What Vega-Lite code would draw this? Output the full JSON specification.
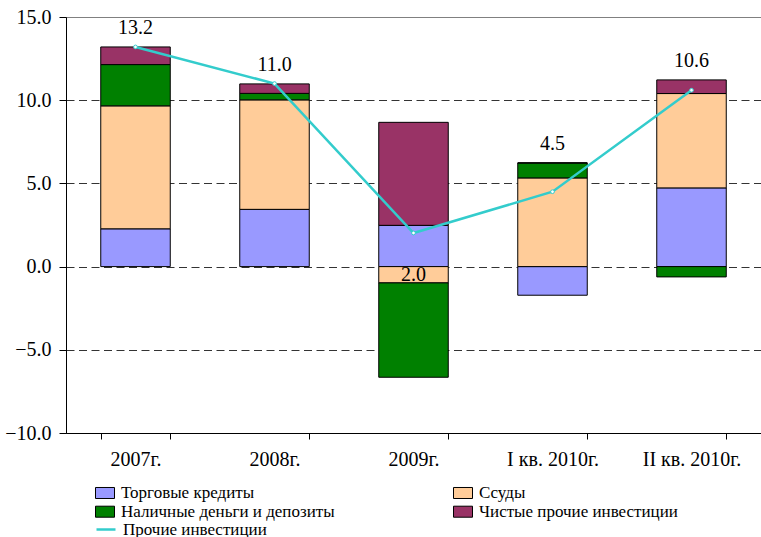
{
  "$schema": "https://vega.github.io/schema/vega-lite/v6.json",
  "autosize": "none",
  "width": 695,
  "height": 416,
  "padding": {"left": 66, "top": 17, "right": 0, "bottom": 104},
  "background": "white",
  "config": {
    "view": {"stroke": "#808080", "strokeWidth": 1},
    "font": "Liberation Serif"
  },
  "datasets": {
    "series": [
      {"series": "Торговые кредиты", "rank": 1},
      {"series": "Ссуды", "rank": 2},
      {"series": "Наличные деньги и депозиты", "rank": 3},
      {"series": "Чистые прочие инвестиции", "rank": 4}
    ],
    "bars": [
      {"cat": "2007г.", "series": "Торговые кредиты", "value": 2.27},
      {"cat": "2007г.", "series": "Ссуды", "value": 7.39},
      {"cat": "2007г.", "series": "Наличные деньги и депозиты", "value": 2.48},
      {"cat": "2007г.", "series": "Чистые прочие инвестиции", "value": 1.06},
      {"cat": "2008г.", "series": "Торговые кредиты", "value": 3.44},
      {"cat": "2008г.", "series": "Ссуды", "value": 6.58},
      {"cat": "2008г.", "series": "Наличные деньги и депозиты", "value": 0.39},
      {"cat": "2008г.", "series": "Чистые прочие инвестиции", "value": 0.57},
      {"cat": "2009г.", "series": "Торговые кредиты", "value": 2.48},
      {"cat": "2009г.", "series": "Ссуды", "value": -0.98},
      {"cat": "2009г.", "series": "Наличные деньги и депозиты", "value": -5.67},
      {"cat": "2009г.", "series": "Чистые прочие инвестиции", "value": 6.19},
      {"cat": "I кв. 2010г.", "series": "Торговые кредиты", "value": -1.72},
      {"cat": "I кв. 2010г.", "series": "Ссуды", "value": 5.33},
      {"cat": "I кв. 2010г.", "series": "Наличные деньги и депозиты", "value": 0.9},
      {"cat": "I кв. 2010г.", "series": "Чистые прочие инвестиции", "value": 0},
      {"cat": "II кв. 2010г.", "series": "Торговые кредиты", "value": 4.73},
      {"cat": "II кв. 2010г.", "series": "Ссуды", "value": 5.67},
      {"cat": "II кв. 2010г.", "series": "Наличные деньги и депозиты", "value": -0.62},
      {"cat": "II кв. 2010г.", "series": "Чистые прочие инвестиции", "value": 0.82}
    ],
    "totals": [
      {"cat": "2007г.", "total": 13.2},
      {"cat": "2008г.", "total": 11.0},
      {"cat": "2009г.", "total": 2.02},
      {"cat": "I кв. 2010г.", "total": 4.5},
      {"cat": "II кв. 2010г.", "total": 10.6}
    ]
  },
  "encoding": {
    "x": {
      "field": "cat",
      "type": "nominal",
      "sort": ["2007г.", "2008г.", "2009г.", "I кв. 2010г.", "II кв. 2010г."],
      "scale": {"paddingInner": 0.5, "paddingOuter": 0.25},
      "axis": {
        "title": null,
        "labelAngle": 0,
        "labelFont": "Liberation Serif",
        "labelFontSize": 20,
        "labelColor": "black",
        "domainColor": "black",
        "tickColor": "black",
        "tickBand": "extent",
        "tickSize": 6,
        "labelPadding": 10,
        "grid": false
      }
    }
  },
  "layer": [
    {
      "data": {"name": "bars"},
      "transform": [
        {"lookup": "series", "from": {"data": {"name": "series"}, "key": "series", "fields": ["rank"]}}
      ],
      "mark": {"type": "bar", "stroke": "black", "strokeWidth": 1},
      "encoding": {
        "y": {
          "field": "value",
          "type": "quantitative",
          "stack": "zero",
          "scale": {"domain": [-10, 15], "nice": false, "zero": false},
          "axis": {
            "title": null,
            "values": [-10, -5, 0, 5, 10, 15],
            "format": ".1f",
            "labelFont": "Liberation Serif",
            "labelFontSize": 20,
            "labelColor": "black",
            "domainColor": "black",
            "tickColor": "black",
            "tickSize": 7,
            "labelPadding": 8,
            "grid": true,
            "gridColor": {"condition": {"test": "datum.value === 15", "value": "#808080"}, "value": "#333333"},
            "gridDash": {"condition": {"test": "datum.value === 15", "value": []}, "value": [8, 4.5]},
            "gridWidth": 1
          }
        },
        "order": {"field": "rank", "type": "quantitative", "sort": "ascending"},
        "fill": {
          "field": "series",
          "type": "nominal",
          "scale": {
            "domain": ["Торговые кредиты", "Наличные деньги и депозиты", "Ссуды", "Чистые прочие инвестиции"],
            "range": ["#9999ff", "#008000", "#ffcc99", "#993366"]
          },
          "legend": {
            "title": null,
            "orient": "none",
            "legendX": 29,
            "legendY": 466,
            "columns": 2,
            "columnPadding": 116,
            "rowPadding": 0.7,
            "padding": 0,
            "symbolType": "M-1,-0.58H1V0.58H-1Z",
            "symbolSize": 361,
            "symbolStrokeColor": "black",
            "symbolStrokeWidth": 1,
            "labelFont": "Liberation Serif",
            "labelFontSize": 17,
            "labelColor": "black",
            "labelOffset": 6,
            "labelLimit": 400
          }
        }
      }
    },
    {
      "data": {"name": "totals"},
      "mark": {
        "type": "line",
        "strokeWidth": 2.5,
        "point": {"filled": false, "fill": "white", "stroke": "#33cccc", "size": 14, "strokeWidth": 1}
      },
      "encoding": {
        "y": {"field": "total", "type": "quantitative"},
        "stroke": {
          "datum": "Прочие инвестиции",
          "type": "nominal",
          "scale": {"range": ["#33cccc"]},
          "legend": {
            "title": null,
            "orient": "none",
            "legendX": 29,
            "legendY": 501.5,
            "padding": 0,
            "symbolType": "stroke",
            "symbolSize": 361,
            "symbolStrokeWidth": 2.5,
            "labelFont": "Liberation Serif",
            "labelFontSize": 17,
            "labelColor": "black",
            "labelOffset": 6
          }
        }
      }
    },
    {
      "data": {"name": "bars"},
      "transform": [
        {"lookup": "cat", "from": {"data": {"name": "totals"}, "key": "cat", "fields": ["total"]}},
        {"filter": "datum.total > 3"},
        {"filter": "datum.value > 0"},
        {"aggregate": [{"op": "sum", "field": "value", "as": "top"}, {"op": "max", "field": "total", "as": "total"}], "groupby": ["cat"]}
      ],
      "mark": {"type": "text", "baseline": "middle", "dy": -19, "font": "Liberation Serif", "fontSize": 20, "color": "black"},
      "encoding": {
        "y": {"field": "top", "type": "quantitative"},
        "text": {"field": "total", "type": "quantitative", "format": ".1f"}
      }
    },
    {
      "data": {"name": "totals"},
      "transform": [{"filter": "datum.total <= 3"}],
      "mark": {"type": "text", "baseline": "middle", "dy": 42, "font": "Liberation Serif", "fontSize": 20, "color": "black"},
      "encoding": {
        "y": {"field": "total", "type": "quantitative"},
        "text": {"field": "total", "type": "quantitative", "format": ".1f"}
      }
    }
  ]
}
